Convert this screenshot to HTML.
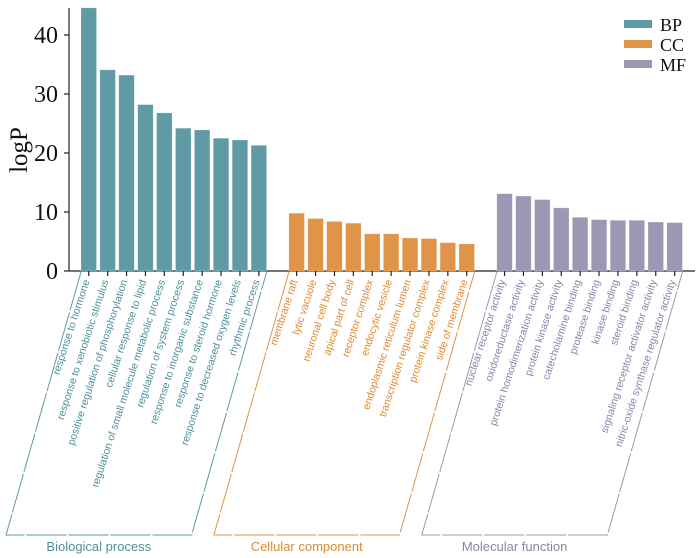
<!DOCTYPE html>
<html><head><meta charset="utf-8"><style>
html,body{margin:0;padding:0;background:#fff;}
svg{display:block;}
</style></head><body>
<svg id="chart" width="700" height="558" xmlns="http://www.w3.org/2000/svg"></svg>
<script>
const bpLabels=["response to hormone","response to xenobiotic stimulus","positive regulation of phosphorylation","cellular response to lipid","regulation of small molecule metabolic process","regulation of system process","response to inorganic substance","response to steroid hormone","response to decreased oxygen levels","rhythmic process"];
const bpValues=[44.6,34.1,33.2,28.2,26.8,24.2,23.9,22.5,22.2,21.3];
const ccLabels=["membrane raft","lytic vacuole","neuronal cell body","apical part of cell","receptor complex","endocytic vesicle","endoplasmic reticulum lumen","transcription regulator complex","protein kinase complex","side of membrane"];
const ccValues=[9.8,8.9,8.4,8.1,6.3,6.3,5.6,5.5,4.8,4.6];
const mfLabels=["nuclear receptor activity","oxidoreductase activity","protein homodimerization activity","protein kinase activity","catecholamine binding","protease binding","kinase binding","steroid binding","signaling receptor activator activity","nitric-oxide synthase regulator activity"];
const mfValues=[13.1,12.7,12.1,10.7,9.1,8.7,8.6,8.6,8.3,8.2];
const yTicks=[0,10,20,30,40];
const groupNames=["Biological process","Cellular component","Molecular function"];
const legendNames=["BP","CC","MF"];

const NS="http://www.w3.org/2000/svg";
const svg=document.getElementById('chart');
function mk(tag,attrs,parent){const e=document.createElementNS(NS,tag);for(const k in attrs)e.setAttribute(k,attrs[k]);(parent||svg).appendChild(e);return e;}
const x0=81,pitch=18.9,bw=15.5,baseY=271,pxPer=5.9;
const yS=v=>baseY-v*pxPer;
const xS=i=>x0+pitch*i;
const fills=["#5f9aa5","#df9447","#9b98b3"];
const txt=["#4f909b","#e08a32","#8985a8"];
const groups=[[bpLabels,bpValues],[ccLabels,ccValues],[mfLabels,mfValues]];

const yAxis=mk('line',{x1:69,y1:8,x2:69,y2:baseY,stroke:'#222','stroke-width':1.2});


const xAxis=mk('line',{x1:69,y1:baseY,x2:695,y2:baseY,stroke:'#222','stroke-width':1.2});


yTicks.forEach(t=>{
  const l=mk('line',{x1:64,y1:yS(t),x2:69,y2:yS(t),stroke:'#222','stroke-width':1.2});
  
  
  const tx=mk('text',{x:58,y:yS(t)+8,'text-anchor':'end','font-family':'Liberation Serif, serif','font-size':24,fill:'#111'});
  tx.textContent=t;
  
  
});
const yt=mk('text',{x:0,y:0,transform:'translate(27,150) rotate(-90)','text-anchor':'middle','font-family':'Liberation Serif, serif','font-size':25,fill:'#111'});
yt.textContent='logP';



const dx=-75,bracketBottom=535;
groups.forEach((g,gi)=>{
  const [labels,vals]=g;
  const start=gi*11;
  vals.forEach((v,i)=>{
    const x=xS(start+i);
    const r=mk('rect',{x:x,y:yS(v),width:bw,height:baseY-yS(v),fill:fills[gi],stroke:'#fff','stroke-opacity':0.35,'stroke-width':0.6});
    
    
    const cx=x+bw/2;
    const tk=mk('line',{x1:cx,y1:baseY,x2:cx,y2:baseY+5,stroke:'#222','stroke-width':1.2});
    
    
    const t=mk('text',{x:0,y:0,transform:`translate(${cx+1},${baseY+10}) rotate(-72)`,'text-anchor':'end','font-family':'Liberation Sans, sans-serif','font-size':10.5,fill:txt[gi]});
    t.textContent=labels[i];
    
    
  });
  const lx=xS(start), rx=xS(start+vals.length-1)+bw;
  const p=mk('polyline',{points:`${lx},${baseY+1} ${lx+dx},${bracketBottom} ${rx+dx},${bracketBottom} ${rx},${baseY+1}`,fill:'none',stroke:fills[gi],'stroke-width':1,'stroke-dasharray':'40 2'});
  
  
  const gl=mk('text',{x:(lx+rx)/2+dx,y:551,'text-anchor':'middle','font-family':'Liberation Sans, sans-serif','font-size':13,fill:txt[gi]});
  gl.textContent=groupNames[gi];
  
  
  const sw=mk('rect',{x:624,y:20+gi*20,width:28,height:8,fill:fills[gi]});
  
  
  const lt=mk('text',{x:660,y:31+gi*20,'font-family':'Liberation Serif, serif','font-size':18,fill:'#111'});
  lt.textContent=legendNames[gi];
  
  
});
</script>
</body></html>
